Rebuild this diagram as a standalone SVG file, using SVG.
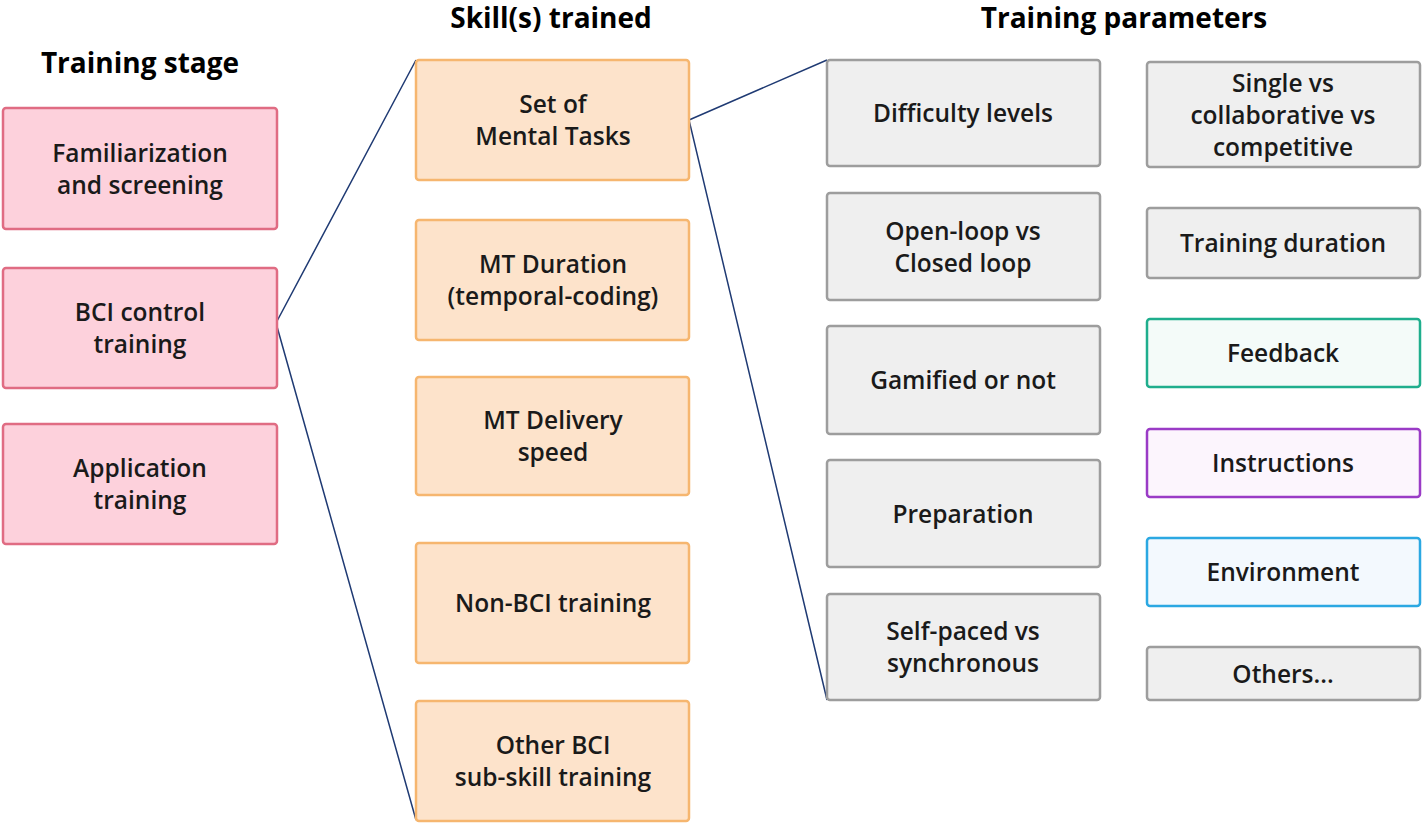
<svg xmlns="http://www.w3.org/2000/svg" width="1424" height="825" viewBox="0 0 1424 825">
<style>
text{font-family:"Open Sans","Lato","Liberation Sans",sans-serif;fill:#1a1a1a;text-anchor:middle}
.h{font-size:28px;font-weight:bold;fill:#000}
.t{font-size:24.5px;font-weight:600}
.pink{fill:#fdd1dc;stroke:#e06c83;stroke-width:2.5}
.orange{fill:#fde3cb;stroke:#f6b66f;stroke-width:2.5}
.gray{fill:#efefef;stroke:#9d9d9d;stroke-width:2.5}
.teal{fill:#f4fbf9;stroke:#1fae8d;stroke-width:2.5}
.purple{fill:#fcf5fd;stroke:#9a3bc6;stroke-width:2.5}
.blue{fill:#f3f9fe;stroke:#2ba8e2;stroke-width:2.5}
.c{fill:none;stroke:#1f3a73;stroke-width:1.5}
</style>
<rect width="1424" height="825" fill="#fff"/>
<text class="h" x="140" y="73">Training stage</text>
<text class="h" x="551" y="28">Skill(s) trained</text>
<text class="h" x="1124" y="28">Training parameters</text>
<g id="connectors">
<polyline class="c" points="416,60 276,323 416,820"/>
<polyline class="c" points="827,60 689,120 827,700"/>
</g>
<g id="familiarization"><rect class="pink" x="3" y="108" width="274" height="121" rx="3"/><text class="t" x="140" y="162">Familiarization</text><text class="t" x="140" y="194">and screening</text></g>
<g id="bci-control"><rect class="pink" x="3" y="268" width="274" height="120" rx="3"/><text class="t" x="140" y="321">BCI control</text><text class="t" x="140" y="353">training</text></g>
<g id="application"><rect class="pink" x="3" y="424" width="274" height="120" rx="3"/><text class="t" x="140" y="477">Application</text><text class="t" x="140" y="509">training</text></g>

<g id="mental-tasks"><rect class="orange" x="416" y="60" width="273" height="120" rx="3"/><text class="t" x="553" y="113">Set of</text><text class="t" x="553" y="145">Mental Tasks</text></g>
<g id="mt-duration"><rect class="orange" x="416" y="220" width="273" height="120" rx="3"/><text class="t" x="553" y="273">MT Duration</text><text class="t" x="553" y="305">(temporal-coding)</text></g>
<g id="mt-delivery"><rect class="orange" x="416" y="377" width="273" height="118" rx="3"/><text class="t" x="553" y="429">MT Delivery</text><text class="t" x="553" y="461">speed</text></g>
<g id="non-bci"><rect class="orange" x="416" y="543" width="273" height="120" rx="3"/><text class="t" x="553" y="612">Non-BCI training</text></g>
<g id="other-bci"><rect class="orange" x="416" y="701" width="273" height="120" rx="3"/><text class="t" x="553" y="754">Other BCI</text><text class="t" x="553" y="786">sub-skill training</text></g>

<g id="difficulty"><rect class="gray" x="827" y="60" width="273" height="106" rx="3"/><text class="t" x="963" y="122">Difficulty levels</text></g>
<g id="open-loop"><rect class="gray" x="827" y="193" width="273" height="107" rx="3"/><text class="t" x="963" y="240">Open-loop vs</text><text class="t" x="963" y="272">Closed loop</text></g>
<g id="gamified"><rect class="gray" x="827" y="326" width="273" height="108" rx="3"/><text class="t" x="963" y="389">Gamified or not</text></g>
<g id="preparation"><rect class="gray" x="827" y="460" width="273" height="107" rx="3"/><text class="t" x="963" y="523">Preparation</text></g>
<g id="self-paced"><rect class="gray" x="827" y="594" width="273" height="106" rx="3"/><text class="t" x="963" y="640">Self-paced vs</text><text class="t" x="963" y="672">synchronous</text></g>

<g id="single"><rect class="gray" x="1147" y="62" width="273" height="105" rx="3"/><text class="t" x="1283" y="92">Single vs</text><text class="t" x="1283" y="124">collaborative vs</text><text class="t" x="1283" y="156">competitive</text></g>
<g id="duration"><rect class="gray" x="1147" y="208" width="273" height="70" rx="3"/><text class="t" x="1283" y="252">Training duration</text></g>
<g id="feedback"><rect class="teal" x="1147" y="319" width="273" height="68" rx="3"/><text class="t" x="1283" y="362">Feedback</text></g>
<g id="instructions"><rect class="purple" x="1147" y="429" width="273" height="68" rx="3"/><text class="t" x="1283" y="472">Instructions</text></g>
<g id="environment"><rect class="blue" x="1147" y="538" width="273" height="68" rx="3"/><text class="t" x="1283" y="581">Environment</text></g>
<g id="others"><rect class="gray" x="1147" y="647" width="273" height="53" rx="3"/><text class="t" x="1283" y="683">Others...</text></g>
</svg>
